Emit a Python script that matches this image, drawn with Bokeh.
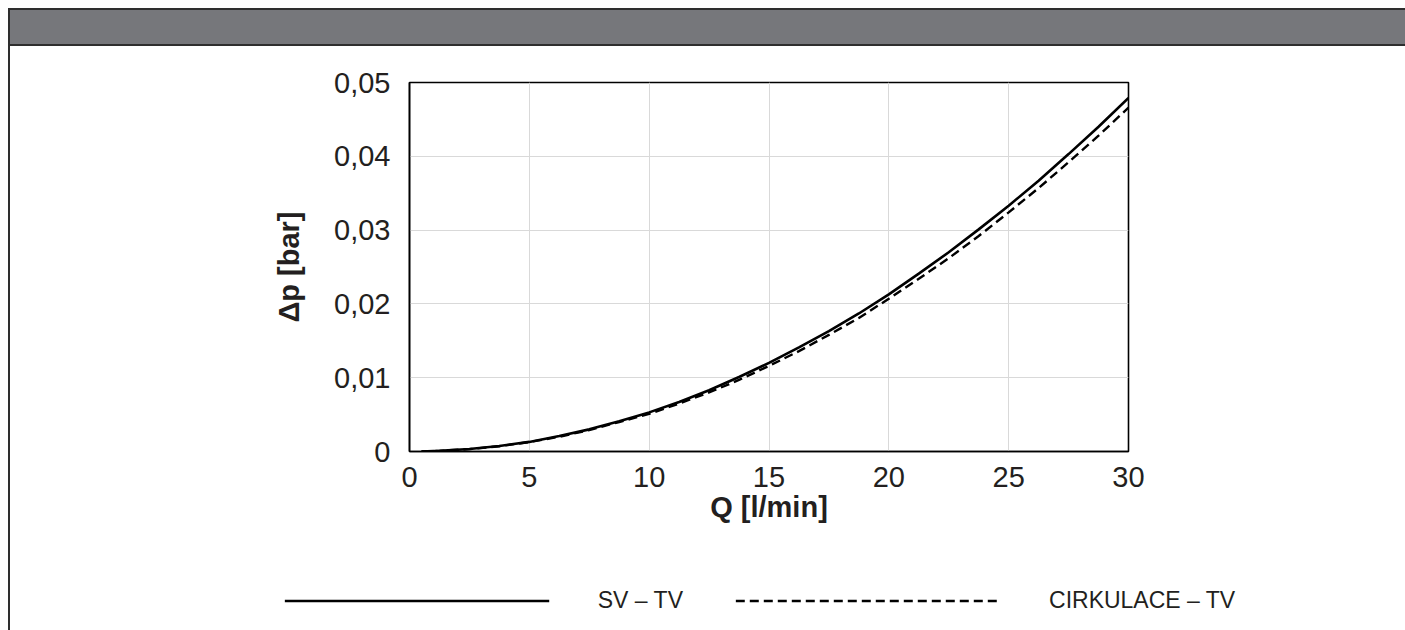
from bokeh.plotting import figure
from bokeh.models import Range1d, FixedTicker, Legend, LegendItem, Div, Spacer
from bokeh.layouts import column, row
from bokeh.embed import file_html
from bokeh.resources import INLINE

# ---- data ----
q = [0.5, 1.25, 2.5, 3.75, 5, 6.25, 7.5, 8.75, 10, 11.25, 12.5, 13.75, 15,
     16.25, 17.5, 18.75, 20, 21.25, 22.5, 23.75, 25, 26.25, 27.5, 28.75, 30]
sv_tv = [0.00001, 0.00008, 0.00033, 0.00075, 0.0013, 0.0021, 0.0030, 0.0041,
         0.0053, 0.0067, 0.0083, 0.0101, 0.0120, 0.0141, 0.0163, 0.0187,
         0.0213, 0.0241, 0.0270, 0.0301, 0.0333, 0.0367, 0.0403, 0.0440, 0.0479]
cirk_tv = [0.00001, 0.00008, 0.00032, 0.00072, 0.00128, 0.0020, 0.0029, 0.0040,
           0.0051, 0.0065, 0.0080, 0.0097, 0.0116, 0.0136, 0.0158, 0.0181,
           0.0207, 0.0234, 0.0262, 0.0292, 0.0324, 0.0357, 0.0392, 0.0428, 0.0466]
x_ticks = [0, 5, 10, 15, 20, 25, 30]
x_tick_labels = ["0", "5", "10", "15", "20", "25", "30"]
y_ticks = [0, 0.01, 0.02, 0.03, 0.04, 0.05]
y_tick_labels = ["0", "0,01", "0,02", "0,03", "0,04", "0,05"]
series_names = ["SV – TV", "CIRKULACE – TV"]
x_label = "Q [l/min]"
y_label = "Δp [bar]"

FONT = "Liberation Sans"
TXT = "#231f20"
EDGE = "#2e2e2e"
W = 1395          # canvas width (each plot also has a 2px left border)
H = 530
BL, FW, FH, BT = 399, 719, 369, 36
BR = W - BL - FW

# ---- header bar ----
header = Div(text="", width=W + 2, height=38, margin=0,
             styles={"background-color": "#76777b",
                     "border-top": f"2px solid {EDGE}",
                     "border-bottom": f"2px solid {EDGE}",
                     "border-left": f"2px solid {EDGE}",
                     "box-sizing": "border-box"})

# ---- main chart ----
p = figure(width=W, height=H, toolbar_location=None, output_backend="svg",
           x_range=Range1d(0, 30), y_range=Range1d(0, 0.05),
           min_border_left=BL, min_border_right=BR,
           min_border_top=BT, min_border_bottom=H - BT - FH,
           styles={"border-left": f"2px solid {EDGE}"})
p.background_fill_color = "white"
p.border_fill_color = "white"
p.outline_line_color = "black"
p.outline_line_width = 1.6

p.line(q, sv_tv, line_color="black", line_width=2.6)
p.line(q, cirk_tv, line_color="black", line_width=2.4, line_dash="9 5")

p.xaxis.ticker = FixedTicker(ticks=x_ticks)
p.yaxis.ticker = FixedTicker(ticks=y_ticks)
p.xaxis.major_label_overrides = {t: l for t, l in zip(x_ticks, x_tick_labels)}
p.yaxis.major_label_overrides = {t: l for t, l in zip(y_ticks, y_tick_labels)}
p.xgrid.ticker = FixedTicker(ticks=x_ticks)
p.ygrid.ticker = FixedTicker(ticks=y_ticks)
p.grid.grid_line_color = "#d9d9d9"
p.grid.grid_line_width = 1

for ax in (p.xaxis, p.yaxis):
    ax.axis_line_color = "black"
    ax.axis_line_width = 1.6
    ax.major_tick_line_color = None
    ax.minor_tick_line_color = None
    ax.major_tick_out = 0
    ax.major_tick_in = 0
    ax.major_label_text_font = FONT
    ax.major_label_text_font_size = "29px"
    ax.major_label_text_color = TXT
    ax.axis_label_text_font = FONT
    ax.axis_label_text_font_size = "29px"
    ax.axis_label_text_font_style = "bold"
    ax.axis_label_text_color = TXT

p.xaxis.axis_label = x_label
p.yaxis.axis_label = y_label
p.xaxis.major_label_standoff = 15
p.xaxis.axis_label_standoff = 1
p.yaxis.major_label_standoff = 19
p.yaxis.axis_label_standoff = 26

# ---- legend strip (own plot; its series lie outside its visible range) ----
LH = 54
lf = figure(width=W, height=LH, toolbar_location=None, output_backend="svg",
            x_range=Range1d(0, 30), y_range=Range1d(1, 2),
            min_border_left=104, min_border_right=0,
            min_border_top=0, min_border_bottom=6,
            styles={"border-left": f"2px solid {EDGE}"})
lf.axis.visible = False
lf.grid.visible = False
lf.outline_line_color = None
lf.background_fill_color = "white"
lr1 = lf.line(q, sv_tv, line_color="black", line_width=2.6)
lr2 = lf.line(q, cirk_tv, line_color="black", line_width=2.4, line_dash="9 5")
legend = Legend(items=[LegendItem(label=series_names[0], renderers=[lr1]),
                       LegendItem(label=series_names[1], renderers=[lr2])],
                orientation="horizontal", location="center",
                glyph_width=265, glyph_height=24, label_height=24,
                label_standoff=49, spacing=52, padding=0, margin=0,
                border_line_color=None, background_fill_alpha=0,
                label_text_font=FONT, label_text_font_size="23px",
                label_text_color=TXT)
lf.add_layout(legend, "center")

layout = row(Spacer(width=8, height=8),
             column(Spacer(width=8, height=8), header, p, row(lf, spacing=0),
                    spacing=0),
             spacing=0)
open("out.html", "w").write(file_html(layout, INLINE))
